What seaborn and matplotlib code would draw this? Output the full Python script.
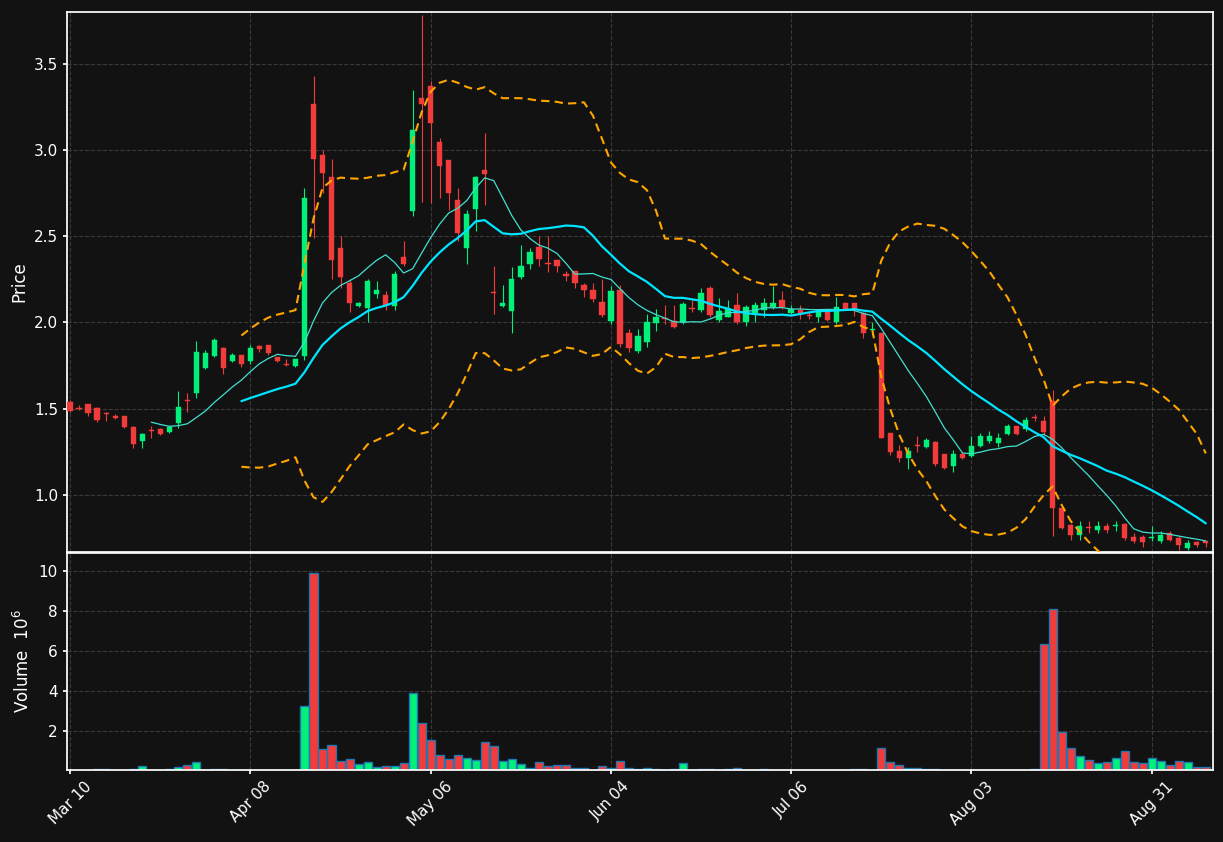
import numpy as np
import pandas as pd
import matplotlib
matplotlib.use("Agg")
import matplotlib.pyplot as plt
import seaborn as sns

# OHLC + volume (volume in millions)
opens = [1.537, 1.505, 1.526, 1.503, 1.472, 1.457, 1.457, 1.394, 1.314, 1.372,
         1.380, 1.366, 1.417, 1.547, 1.589, 1.737, 1.806, 1.851, 1.777, 1.809,
         1.777, 1.866, 1.869, 1.797, 1.756, 1.749, 1.803, 3.269, 2.971, 2.846,
         2.434, 2.229, 2.094, 2.083, 2.166, 2.160, 2.097, 2.380, 2.646, 3.300,
         3.369, 3.049, 2.940, 2.711, 2.434, 2.657, 2.883, 2.176, 2.097, 2.069,
         2.266, 2.337, 2.437, 2.342, 2.363, 2.276, 2.297, 2.217, 2.189, 2.117,
         2.006, 2.189, 1.937, 1.837, 1.889, 1.997, 2.025, 2.011, 2.003, 2.082,
         2.074, 2.200, 2.017, 2.031, 2.100, 2.000, 2.054, 2.074, 2.089, 2.129,
         2.057, 2.074, 2.039, 2.029, 2.063, 2.000, 2.111, 2.111, 2.054, 1.958,
         1.937, 1.357, 1.257, 1.214, 1.285, 1.277, 1.309, 1.240, 1.169, 1.240,
         1.226, 1.283, 1.314, 1.300, 1.354, 1.397, 1.380, 1.451, 1.426, 1.546,
         0.923, 0.823, 0.769, 0.812, 0.794, 0.817, 0.821, 0.831, 0.754, 0.757,
         0.752, 0.734, 0.780, 0.751, 0.694, 0.729, 0.728]
closes = [1.486, 1.500, 1.474, 1.434, 1.468, 1.446, 1.394, 1.294, 1.354, 1.368,
          1.354, 1.394, 1.509, 1.543, 1.829, 1.823, 1.897, 1.737, 1.809, 1.760,
          1.851, 1.846, 1.823, 1.777, 1.752, 1.786, 2.723, 2.949, 2.866, 2.360,
          2.266, 2.114, 2.111, 2.240, 2.189, 2.103, 2.280, 2.337, 3.114, 3.269,
          3.157, 2.906, 2.749, 2.517, 2.631, 2.843, 2.860, 2.172, 2.111, 2.251,
          2.329, 2.409, 2.366, 2.338, 2.326, 2.272, 2.226, 2.186, 2.137, 2.046,
          2.183, 1.874, 1.851, 1.920, 2.000, 2.031, 2.021, 1.974, 2.109, 2.078,
          2.169, 2.046, 2.069, 2.077, 2.000, 2.089, 2.100, 2.111, 2.111, 2.089,
          2.080, 2.057, 2.035, 2.069, 2.014, 2.089, 2.077, 2.074, 1.937, 1.962,
          1.331, 1.246, 1.214, 1.257, 1.281, 1.320, 1.177, 1.154, 1.240, 1.214,
          1.283, 1.343, 1.343, 1.329, 1.397, 1.354, 1.437, 1.447, 1.366, 0.923,
          0.809, 0.766, 0.817, 0.808, 0.817, 0.794, 0.825, 0.749, 0.731, 0.726,
          0.756, 0.769, 0.740, 0.709, 0.720, 0.709, 0.724]
highs = [1.55, 1.52, 1.53, 1.51, 1.48, 1.47, 1.46, 1.40, 1.36, 1.40,
         1.39, 1.40, 1.60, 1.59, 1.89, 1.84, 1.91, 1.86, 1.82, 1.81,
         1.87, 1.87, 1.87, 1.80, 1.79, 1.79, 2.78, 3.43, 3.00, 2.95,
         2.50, 2.25, 2.12, 2.25, 2.24, 2.18, 2.30, 2.47, 3.35, 3.78,
         3.40, 3.07, 2.94, 2.78, 2.65, 2.85, 3.10, 2.33, 2.22, 2.32,
         2.45, 2.43, 2.50, 2.50, 2.36, 2.30, 2.30, 2.23, 2.23, 2.25,
         2.21, 2.22, 1.96, 1.96, 2.05, 2.08, 2.10, 2.10, 2.12, 2.13,
         2.20, 2.21, 2.14, 2.13, 2.17, 2.10, 2.12, 2.14, 2.21, 2.18,
         2.10, 2.10, 2.06, 2.08, 2.07, 2.15, 2.12, 2.11, 2.06, 2.00,
         1.94, 1.36, 1.29, 1.28, 1.34, 1.33, 1.31, 1.24, 1.26, 1.25,
         1.34, 1.36, 1.37, 1.36, 1.41, 1.40, 1.45, 1.47, 1.46, 1.61,
         0.93, 0.83, 0.85, 0.85, 0.85, 0.84, 0.85, 0.84, 0.78, 0.77,
         0.82, 0.79, 0.79, 0.76, 0.74, 0.73, 0.73]
lows = [1.48, 1.49, 1.46, 1.42, 1.43, 1.44, 1.39, 1.27, 1.27, 1.33,
        1.35, 1.36, 1.39, 1.48, 1.56, 1.73, 1.80, 1.70, 1.77, 1.74,
        1.76, 1.83, 1.81, 1.77, 1.75, 1.74, 1.78, 2.49, 2.75, 2.25,
        2.20, 2.06, 2.09, 2.00, 2.14, 2.07, 2.07, 2.33, 2.62, 2.70,
        2.69, 2.72, 2.65, 2.47, 2.34, 2.53, 2.68, 2.05, 2.09, 1.94,
        2.25, 2.31, 2.33, 2.29, 2.29, 2.24, 2.20, 2.15, 2.12, 2.03,
        1.99, 1.86, 1.83, 1.82, 1.86, 1.95, 1.99, 1.97, 1.99, 2.06,
        2.06, 2.03, 2.00, 2.03, 1.99, 1.98, 2.00, 2.03, 2.08, 2.08,
        2.05, 2.02, 2.02, 2.00, 2.01, 1.99, 2.07, 2.04, 1.91, 1.93,
        1.33, 1.23, 1.19, 1.15, 1.25, 1.27, 1.17, 1.15, 1.13, 1.21,
        1.22, 1.28, 1.30, 1.28, 1.35, 1.35, 1.37, 1.43, 1.35, 0.76,
        0.80, 0.74, 0.74, 0.78, 0.78, 0.78, 0.79, 0.74, 0.72, 0.70,
        0.73, 0.72, 0.73, 0.68, 0.68, 0.70, 0.70]
volumes = [0.03, 0.02, 0.03, 0.08, 0.08, 0.03, 0.05, 0.12, 0.25, 0.05,
           0.03, 0.10, 0.22, 0.30, 0.44, 0.03, 0.10, 0.10, 0.05, 0.05,
           0.03, 0.03, 0.03, 0.03, 0.03, 0.03, 3.24, 9.88, 1.08, 1.28,
           0.49, 0.59, 0.37, 0.44, 0.20, 0.25, 0.25, 0.42, 3.88, 2.38,
           1.55, 0.79, 0.61, 0.79, 0.64, 0.54, 1.47, 1.23, 0.49, 0.59,
           0.34, 0.17, 0.47, 0.25, 0.30, 0.30, 0.17, 0.17, 0.07, 0.25,
           0.17, 0.49, 0.17, 0.12, 0.15, 0.10, 0.07, 0.10, 0.42, 0.07,
           0.10, 0.10, 0.05, 0.10, 0.15, 0.07, 0.07, 0.10, 0.07, 0.07,
           0.05, 0.05, 0.03, 0.07, 0.05, 0.03, 0.05, 0.12, 0.10, 0.05,
           1.15, 0.47, 0.30, 0.15, 0.15, 0.10, 0.10, 0.07, 0.05, 0.05,
           0.07, 0.07, 0.03, 0.03, 0.03, 0.03, 0.05, 0.10, 6.34, 8.08,
           1.97, 1.15, 0.74, 0.57, 0.42, 0.47, 0.64, 0.98, 0.47, 0.42,
           0.64, 0.52, 0.32, 0.49, 0.47, 0.20, 0.20]
tick_labels = ['Mar 10', 'Apr 08', 'May 06', 'Jun 04', 'Jul 06', 'Aug 03', 'Aug 31']

UP, DOWN, BG = '#00f07a', '#f23c3c', '#121212'

df = pd.DataFrame({'Open': opens, 'High': highs, 'Low': lows,
                   'Close': closes, 'Volume': volumes})
df['idx'] = np.arange(len(df))
df['MA10'] = df['Close'].rolling(10).mean()
df['MA20'] = df['Close'].rolling(20).mean()
std20 = df['Close'].rolling(20).std()
df['Upper'] = df['MA20'] + 2 * std20
df['Lower'] = df['MA20'] - 2 * std20
up = df['Close'] >= df['Open']
colors = np.where(up, UP, DOWN)

sns.set_theme(style='dark', rc={
    'figure.facecolor': BG, 'axes.facecolor': BG, 'axes.edgecolor': 'white',
    'axes.labelcolor': 'white', 'xtick.color': 'white', 'ytick.color': 'white',
    'text.color': 'white', 'grid.color': '#3a3a3a', 'grid.linestyle': '--',
    'axes.grid': True, 'xtick.bottom': True, 'ytick.left': True})
plt.rcParams['font.family'] = ['DejaVu Sans']

fig = plt.figure(figsize=(12.23, 8.42), dpi=100)
ax = fig.add_axes([67/1223, 1 - 552/842, 1146/1223, 540/842])
axv = fig.add_axes([67/1223, 1 - 770/842, 1146/1223, 217/842], sharex=ax)

# candles
ax.vlines(df['idx'], df['Low'], df['High'], colors=colors, lw=0.8, zorder=2)
body_lo = np.minimum(df['Open'], df['Close'])
body_h = np.maximum((df['Close'] - df['Open']).abs(), 0.006)
ax.bar(df['idx'], body_h, bottom=body_lo, width=0.6, color=colors,
       edgecolor=colors, lw=0.3, zorder=3)

sns.lineplot(data=df, x='idx', y='MA10', ax=ax, color='#40e0d0', lw=0.9, zorder=4)
sns.lineplot(data=df, x='idx', y='MA20', ax=ax, color='#00e5ff', lw=1.6, zorder=4)
for col in ['Upper', 'Lower']:
    sns.lineplot(data=df, x='idx', y=col, ax=ax, color='#ffa500', lw=1.5,
                 linestyle=(0, (4, 2.5)), zorder=4)

ax.set_ylim(0.669, 3.80)
ax.set_xlim(-0.35, 126.8)
ax.set_ylabel('Price')
ax.set_xlabel('')
ax.tick_params(labelbottom=False, length=3)

# volume
axv.bar(df['idx'], df['Volume'], width=0.9, color=colors, edgecolor='#1f77b4', lw=1.0)
axv.set_ylim(0.05, 10.9)
axv.set_yticks([2, 4, 6, 8, 10])
axv.set_ylabel('Volume  $10^6$')
axv.set_xticks(np.arange(0, 121, 20))
axv.set_xticklabels(tick_labels, rotation=45, ha='center')
axv.tick_params(length=3)
axv.set_xlabel('')

for a in (ax, axv):
    for s in a.spines.values():
        s.set_color('white')
    a.grid(True, color='#3a3a3a', linestyle='--', lw=0.8)

fig.savefig('out.png', dpi=100, facecolor=BG)
